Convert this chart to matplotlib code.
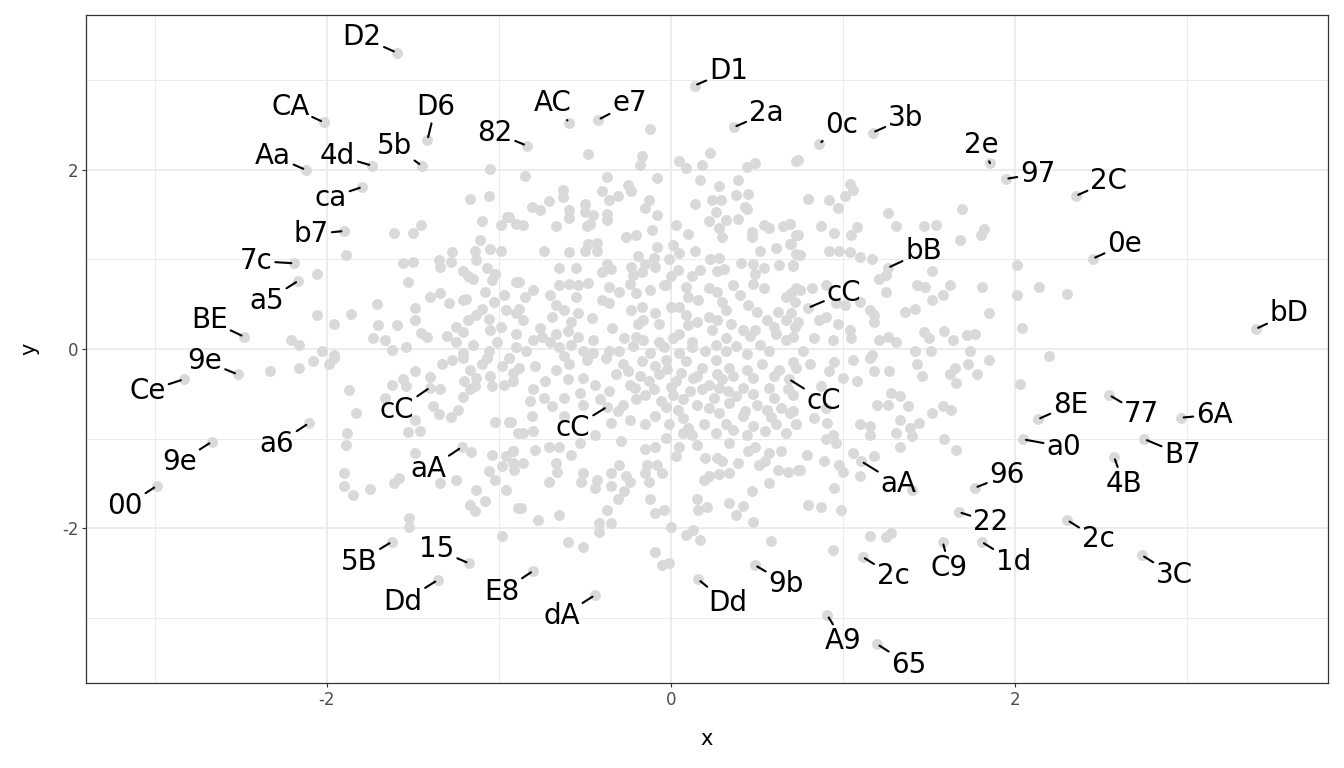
import numpy as np
import matplotlib
matplotlib.use("Agg")
import matplotlib.pyplot as plt

plt.rcParams["axes.unicode_minus"] = False

# grey background points (x, y)
cloud_nw = [
    (-1.05, 2.01), (-1.17, 1.68), (-1.06, 1.71), (-0.90, 1.40), (-1.61, 1.29), (-1.50, 1.30), (-1.45, 1.38),
    (-1.10, 1.43), (-0.95, 1.47), (-0.99, 1.38), (-1.89, 1.05), (-2.06, 0.84), (-1.56, 0.96), (-1.50, 0.97),
    (-1.53, 0.75), (-1.35, 0.99), (-1.34, 0.92), (-1.27, 1.08), (-1.28, 0.97), (-1.21, 0.87), (-1.14, 1.09),
    (-1.13, 0.99), (-1.11, 1.22), (-1.05, 1.12), (-0.99, 1.09), (-1.07, 0.90), (-1.02, 0.84), (-1.18, 0.81),
    (-1.15, 0.78), (-1.04, 0.77), (-0.90, 0.75), (-1.40, 0.58), (-1.34, 0.63), (-1.29, 0.51), (-1.21, 0.55),
    (-1.19, 0.56), (-1.08, 0.64), (-1.03, 0.53), (-0.97, 0.60), (-1.71, 0.50), (-1.49, 0.46), (-1.49, 0.32),
    (-1.59, 0.27), (-1.70, 0.27), (-1.86, 0.39), (-2.06, 0.38), (-1.96, 0.28), (-2.21, 0.10), (-2.16, 0.04),
    (-2.03, -0.02), (-1.96, -0.07), (-1.73, 0.12), (-1.66, 0.10), (-1.62, -0.01), (-1.54, 0.02), (-1.45, 0.18),
    (-1.42, 0.13), (-1.30, 0.15), (-1.25, 0.25), (-1.21, 0.19), (-1.25, 0.08), (-1.18, 0.32), (-1.13, 0.38),
    (-1.06, 0.33), (-0.99, 0.25), (-1.05, 0.21), (-0.96, 0.43), (-1.01, 0.08), (-1.06, -0.02), (-1.21, -0.05),
    (-0.90, 0.17), (-0.90, 0.40),
]

cloud_n = [
    (-0.12, 2.46), (-0.48, 2.18), (-0.17, 2.16), (-0.18, 2.06), (0.05, 2.10), (0.09, 2.02), (0.18, 2.06),
    (0.23, 2.19), (0.44, 2.03), (0.49, 2.08), (0.73, 2.10), (-0.85, 1.93), (-0.37, 1.92), (-0.25, 1.83),
    (-0.23, 1.76), (-0.08, 1.91), (0.17, 1.89), (0.28, 1.82), (0.39, 1.89), (-0.63, 1.78), (-0.63, 1.70),
    (-0.40, 1.76), (-0.36, 1.66), (-0.31, 1.71), (-0.71, 1.65), (-0.76, 1.55), (-0.81, 1.59), (-0.50, 1.62),
    (-0.50, 1.53), (-0.45, 1.50), (-0.59, 1.55), (-0.59, 1.46), (-0.37, 1.51), (-0.37, 1.44), (-0.13, 1.66),
    (-0.15, 1.58), (-0.08, 1.50), (0.14, 1.62), (0.24, 1.66), (0.29, 1.66), (0.26, 1.53), (0.38, 1.72),
    (0.45, 1.73), (0.43, 1.59), (0.44, 1.56), (-0.94, 1.47), (-0.86, 1.38), (-0.67, 1.37), (-0.49, 1.37),
    (-0.47, 1.40), (0.22, 1.43), (0.32, 1.44), (0.39, 1.45), (0.28, 1.35), (0.30, 1.25), (0.03, 1.38),
    (0.10, 1.28), (-0.11, 1.33), (-0.26, 1.25), (-0.20, 1.27), (0.47, 1.31), (0.47, 1.25), (0.54, 1.38),
    (0.57, 1.35), (0.65, 1.37), (0.69, 1.40), (0.73, 1.27), (-0.74, 1.09), (-0.59, 1.08), (-0.50, 1.09),
    (-0.48, 1.17), (-0.43, 1.18), (-0.43, 1.09), (-0.08, 1.14), (0.01, 1.16), (0.05, 1.07), (-0.19, 1.04),
    (0.14, 1.10), (0.52, 1.10), (0.61, 1.13), (0.69, 1.17), (0.73, 1.06), (0.23, 1.01), (0.28, 1.02),
    (-0.01, 1.01), (-0.10, 1.02), (-0.15, 0.95), (-0.65, 0.90), (-0.55, 0.91), (-0.37, 0.95), (-0.35, 0.89),
    (-0.40, 0.86), (-0.23, 0.92), (-0.22, 0.83), (-0.17, 0.86), (-0.09, 0.92), (0.04, 0.88), (0.00, 0.81),
    (-0.03, 0.71), (0.12, 0.81), (0.17, 0.88), (0.27, 0.87), (0.31, 0.89), (0.41, 0.96), (0.48, 0.95),
    (0.54, 0.90), (0.49, 0.84), (0.48, 0.73), (0.54, 0.68), (0.63, 0.94), (0.71, 0.93), (-0.88, 0.75),
    (-0.80, 0.66), (-0.85, 0.58), (-0.65, 0.72), (-0.59, 0.73), (-0.54, 0.71), (-0.48, 0.74), (-0.55, 0.58),
    (-0.36, 0.69), (-0.30, 0.64), (-0.24, 0.73), (-0.20, 0.62), (-0.12, 0.66), (-0.04, 0.71), (0.09, 0.69),
    (0.16, 0.55), (0.22, 0.68), (0.27, 0.64), (0.36, 0.71), (0.40, 0.60), (0.67, 0.58), (0.73, 0.68),
    (-0.88, 0.45), (-0.86, 0.32), (-0.67, 0.49), (-0.62, 0.43), (-0.54, 0.40), (-0.46, 0.35), (-0.58, 0.30),
    (-0.69, 0.36), (-0.36, 0.51), (-0.23, 0.43), (-0.17, 0.47), (-0.16, 0.32), (-0.19, 0.28), (-0.09, 0.40),
    (0.00, 0.47), (0.05, 0.47), (0.09, 0.38), (0.10, 0.27), (-0.07, 0.28), (0.22, 0.36), (0.27, 0.32),
    (0.32, 0.43), (0.45, 0.49), (0.50, 0.41), (0.56, 0.32), (0.62, 0.41), (0.67, 0.32), (0.72, 0.52),
    (-0.76, 0.23), (-0.75, 0.13), (-0.67, 0.17), (-0.60, 0.20), (-0.54, 0.13), (-0.45, 0.10), (-0.34, 0.23),
    (-0.27, 0.12), (-0.20, 0.13), (-0.16, 0.10), (-0.07, 0.08), (0.01, 0.12), (0.05, 0.17), (0.12, 0.08),
    (0.24, 0.21), (0.32, 0.12), (0.42, 0.21), (0.46, 0.15), (0.49, 0.21), (0.61, 0.17), (0.67, 0.10),
    (0.72, 0.25), (-0.90, 0.02), (-0.84, -0.02), (-0.65, 0.02), (-0.51, -0.02), (-0.36, -0.02), (0.20, -0.02),
    (0.32, -0.02), (0.57, -0.02),
]

cloud_ne = [
    (0.74, 2.11), (1.04, 1.84), (1.06, 1.78), (1.01, 1.71), (0.80, 1.68), (0.92, 1.66), (0.97, 1.58),
    (1.26, 1.52), (1.69, 1.56), (0.87, 1.37), (0.95, 1.30), (1.08, 1.36), (1.05, 1.27), (1.31, 1.37),
    (1.47, 1.37), (1.54, 1.38), (1.82, 1.34), (1.80, 1.27), (1.68, 1.22), (0.69, 1.40), (0.74, 1.27),
    (0.70, 1.17), (0.75, 1.05), (0.92, 1.09), (0.98, 1.10), (1.04, 1.08), (1.10, 1.03), (1.17, 1.01),
    (0.71, 0.94), (1.21, 0.78), (1.25, 0.83), (1.52, 0.87), (1.43, 0.71), (1.48, 0.69), (1.62, 0.72),
    (1.81, 0.69), (2.01, 0.94), (2.14, 0.69), (2.30, 0.61), (2.01, 0.60), (1.25, 0.64), (1.52, 0.55),
    (1.58, 0.60), (1.36, 0.41), (1.42, 0.45), (1.85, 0.40), (2.04, 0.23), (0.75, 0.66), (0.82, 0.68),
    (0.90, 0.72), (0.70, 0.62), (0.96, 0.51), (1.01, 0.49), (1.10, 0.52), (1.16, 0.44), (1.18, 0.38),
    (1.18, 0.30), (0.97, 0.28), (0.86, 0.32), (0.90, 0.36), (0.74, 0.30), (0.70, 0.40), (0.71, 0.13),
    (0.83, 0.12), (0.94, 0.10), (1.04, 0.21), (1.05, 0.12), (1.21, 0.10), (1.26, 0.13), (1.31, 0.08),
    (1.47, 0.19), (1.50, 0.12), (1.59, 0.20), (1.64, 0.10), (1.72, 0.16), (1.77, 0.17), (1.42, -0.02),
    (1.51, -0.02), (1.74, -0.02), (0.77, -0.02), (1.17, -0.07),
]

cloud_sw = [
    (-2.33, -0.25), (-2.16, -0.21), (-2.08, -0.13), (-1.99, -0.17), (-1.96, -0.10), (-1.87, -0.46),
    (-1.83, -0.72), (-1.88, -0.94), (-1.89, -1.07), (-1.90, -1.38), (-1.90, -1.53), (-1.85, -1.63),
    (-1.75, -1.56), (-1.61, -1.50), (-1.58, -1.44), (-1.49, -1.16), (-1.34, -1.50), (-1.25, -1.46),
    (-1.16, -1.15), (-1.52, -1.89), (-1.52, -1.99), (-0.98, -2.09), (-1.17, -1.74), (-1.14, -1.81),
    (-1.13, -1.57), (-1.08, -1.70), (-1.06, -1.36), (-1.02, -1.46), (-0.96, -1.57), (-0.89, -1.78),
    (-1.02, -0.81), (-0.94, -0.81), (-0.89, -0.94), (-1.04, -1.18), (-0.96, -1.20), (-0.92, -1.14),
    (-0.92, -1.27), (-0.98, -1.31), (-1.53, -0.93), (-1.46, -0.92), (-1.49, -0.79), (-1.66, -0.55),
    (-1.62, -0.40), (-1.56, -0.34), (-1.49, -0.25), (-1.54, -0.41), (-1.40, -0.31), (-1.34, -0.45),
    (-1.38, -0.64), (-1.35, -0.73), (-1.28, -0.76), (-1.24, -0.68), (-1.21, -0.54), (-1.17, -0.45),
    (-1.20, -0.36), (-1.14, -0.41), (-1.13, -0.32), (-1.17, -0.23), (-1.10, -0.17), (-1.33, -0.17),
    (-1.27, -0.12), (-1.05, -0.30), (-1.04, -0.41), (-0.97, -0.40), (-0.98, -0.19), (-0.92, -0.27),
    (-0.94, -0.10), (-1.07, -0.10), (-1.21, -0.10),
]

cloud_s = [
    (-0.88, -0.21), (-0.79, -0.19), (-0.67, -0.23), (-0.59, -0.17), (-0.49, -0.12), (-0.38, -0.10),
    (-0.28, -0.17), (-0.17, -0.13), (-0.09, -0.19), (-0.03, -0.12), (0.09, -0.13), (0.18, -0.21),
    (0.26, -0.12), (0.34, -0.21), (0.44, -0.23), (0.53, -0.17), (0.63, -0.23), (0.71, -0.15),
    (-0.92, -0.36), (-0.73, -0.36), (-0.60, -0.34), (-0.51, -0.32), (-0.44, -0.40), (-0.32, -0.28),
    (-0.24, -0.40), (-0.13, -0.36), (-0.07, -0.28), (0.03, -0.36), (0.13, -0.32), (0.22, -0.40),
    (0.30, -0.34), (0.42, -0.43), (0.57, -0.43), (0.68, -0.45), (-0.82, -0.58), (-0.74, -0.55),
    (-0.69, -0.64), (-0.62, -0.55), (-0.53, -0.49), (-0.51, -0.62), (-0.41, -0.56), (-0.36, -0.47),
    (-0.28, -0.62), (-0.21, -0.43), (-0.20, -0.56), (-0.15, -0.51), (-0.06, -0.58), (0.01, -0.51),
    (0.07, -0.56), (0.11, -0.47), (0.15, -0.62), (0.25, -0.55), (0.33, -0.47), (0.34, -0.60),
    (0.43, -0.69), (0.56, -0.68), (0.64, -0.66), (0.69, -0.71), (-0.81, -0.75), (-0.93, -0.81),
    (-0.86, -0.94), (-0.80, -0.92), (-0.62, -0.75), (-0.44, -0.96), (-0.35, -0.83), (-0.24, -0.79),
    (-0.31, -0.69), (-0.15, -0.84), (-0.09, -0.75), (-0.01, -0.84), (-0.03, -0.99), (0.07, -0.77),
    (0.07, -0.94), (0.12, -0.96), (0.19, -0.84), (0.26, -0.94), (0.32, -0.84), (0.34, -1.05),
    (0.44, -0.96), (0.42, -0.75), (0.55, -0.92), (0.61, -0.84), (0.67, -0.94), (0.73, -0.84),
    (-0.92, -1.14), (-0.86, -1.27), (-0.91, -1.35), (-0.79, -1.13), (-0.71, -1.09), (-0.65, -1.09),
    (-0.58, -1.18), (-0.53, -1.05), (-0.67, -1.27), (-0.66, -1.37), (-0.71, -1.49), (-0.29, -1.03),
    (-0.30, -1.29), (-0.35, -1.38), (-0.43, -1.46), (-0.51, -1.38), (-0.52, -1.48), (-0.44, -1.55),
    (-0.35, -1.53), (-0.26, -1.42), (-0.24, -1.48), (-0.27, -1.59), (-0.31, -1.67), (-0.15, -1.12),
    (-0.14, -1.29), (-0.08, -1.29), (-0.05, -1.38), (-0.13, -1.48), (-0.15, -1.38), (0.03, -1.20),
    (-0.09, -1.10), (0.05, -1.10), (0.15, -1.07), (0.20, -1.22), (0.27, -1.22), (0.30, -1.25),
    (0.39, -1.27), (0.45, -1.14), (0.49, -1.10), (0.57, -1.16), (0.64, -1.14), (0.51, -1.29),
    (0.55, -1.25), (0.62, -1.35), (0.68, -1.37), (0.74, -1.35), (0.19, -1.46), (0.22, -1.42),
    (0.28, -1.40), (0.34, -1.38), (0.57, -1.50), (0.47, -1.59), (0.15, -1.67), (0.16, -1.80),
    (0.21, -1.76), (0.34, -1.72), (0.42, -1.75), (0.38, -1.85), (0.48, -1.93), (0.58, -2.14),
    (-0.12, -1.68), (-0.09, -1.83), (-0.04, -1.80), (0.00, -1.99), (0.09, -2.08), (0.13, -2.02),
    (0.17, -2.13), (-0.09, -2.27), (-0.05, -2.41), (-0.01, -2.39), (-0.87, -1.78), (-0.77, -1.91),
    (-0.65, -1.85), (-0.37, -1.80), (-0.42, -1.94), (-0.42, -2.04), (-0.35, -1.94), (-0.60, -2.16),
    (-0.51, -2.21),
]

cloud_se = [
    (0.73, -0.21), (0.81, -0.17), (0.92, -0.25), (0.95, -0.15), (1.00, -0.32), (1.08, -0.36), (1.06, -0.12),
    (1.16, -0.10), (1.18, -0.25), (1.27, -0.25), (1.43, -0.17), (1.46, -0.30), (1.62, -0.28), (1.65, -0.21),
    (1.73, -0.17), (1.78, -0.28), (1.66, -0.38), (1.85, -0.12), (2.03, -0.39), (2.20, -0.08), (0.71, -0.51),
    (0.71, -0.69), (0.73, -0.84), (0.83, -0.77), (0.90, -0.66), (0.87, -0.41), (0.91, -0.83), (0.94, -0.96),
    (0.96, -1.05), (0.90, -1.01), (0.79, -1.18), (0.89, -1.25), (0.98, -1.29), (1.00, -1.37), (0.75, -1.35),
    (0.95, -1.55), (0.80, -1.74), (0.87, -1.76), (0.99, -1.80), (0.94, -2.25), (1.06, -1.16), (1.18, -1.20),
    (1.10, -1.42), (1.40, -1.57), (1.20, -0.62), (1.26, -0.62), (1.28, -0.49), (1.33, -0.53), (1.38, -0.64),
    (1.33, -0.79), (1.10, -0.84), (1.16, -0.86), (1.16, -0.96), (1.31, -0.94), (1.39, -0.88), (1.44, -0.83),
    (1.40, -0.97), (1.33, -1.10), (1.52, -0.71), (1.58, -0.64), (1.63, -0.68), (1.59, -1.01), (1.66, -1.13),
    (1.16, -2.09), (1.25, -2.10), (1.28, -2.06),
]

# the solid, overlapping core around the origin
cloud_core = [
    (-0.30, -0.02), (-0.22, 0.03), (-0.12, -0.05), (-0.04, 0.02), (0.05, -0.05), (0.12, 0.02), (0.26, 0.04),
    (0.38, 0.03), (0.44, -0.06), (0.52, 0.05), (-0.25, -0.25), (-0.18, -0.30), (-0.02, -0.22), (0.06, -0.27),
    (0.15, -0.30), (0.27, -0.28), (0.36, -0.30), (0.48, -0.32), (0.60, -0.30), (-0.10, -0.45), (0.00, -0.42),
    (0.18, -0.45), (0.28, -0.44), (0.38, -0.52), (0.48, -0.50), (0.60, -0.55), (-0.03, -0.65), (0.04, -0.68),
    (0.22, -0.66), (0.28, -0.72), (0.50, -0.62), (0.58, -0.76), (0.10, -0.88), (0.36, -0.90), (0.48, -0.86),
    (-0.58, 0.05), (-0.70, 0.08), (-0.80, 0.10), (-0.62, -0.08), (-0.45, -0.05), (0.15, 0.30), (0.35, 0.28),
    (0.60, 0.25), (0.10, 0.58), (0.30, 0.52), (-0.40, 0.55), (-0.70, 0.60), (-1.10, 0.45), (-1.15, 0.05),
    (-0.80, -0.45),
]

# labelled points
label_names = ["D2", "D1", "CA", "D6", "AC", "e7", "82", "2a", "0c", "3b",
               "Aa", "4d", "5b", "2e", "97", "2C", "ca", "b7", "bB", "0e",
               "7c", "a5", "cC", "BE", "bD", "9e", "Ce", "cC", "cC", "cC",
               "8E", "77", "6A", "a6", "a0", "B7", "aA", "aA", "9e", "4B",
               "96", "00", "22", "2c", "5B", "C9", "1d", "15", "2c", "3C",
               "9b", "E8", "Dd", "Dd", "dA", "A9", "65"]
label_x = [-1.595, 0.138, -2.019, -1.415, -0.591, -0.423, -0.839, 0.366, 0.862, 1.173,
           -2.122, -1.738, -1.449, 1.855, 1.946, 2.353, -1.793, -1.899, 1.26, 2.452,
           -2.190, -2.165, 0.797, -2.481, 3.399, -2.519, -2.833, -1.40, 0.685, -0.37,
           2.132, 2.548, 2.965, -2.106, 2.048, 2.752, -1.217, 1.107, -2.669, 2.576,
           1.767, -2.990, 1.674, 2.304, -1.622, 1.580, 1.806, -1.173, 1.114, 2.737,
           0.488, -0.800, -1.356, 0.159, -0.442, 0.909, 1.199]
label_y = [3.311, 2.942, 2.533, 2.335, 2.528, 2.559, 2.272, 2.477, 2.291, 2.417,
           2.000, 2.048, 2.048, 2.075, 1.899, 1.709, 1.810, 1.318, 0.905, 1.009,
           0.957, 0.763, 0.459, 0.137, 0.223, -0.283, -0.339, -0.43, -0.335, -0.645,
           -0.786, -0.514, -0.767, -0.830, -1.009, -1.006, -1.098, -1.254, -1.036, -1.203,
           -1.550, -1.531, -1.821, -1.911, -2.153, -2.153, -2.153, -2.394, -2.321, -2.302,
           -2.413, -2.477, -2.581, -2.573, -2.749, -2.972, -3.296]

# where the repelled text ended up (layout, data units)
text_x = [-1.797, 0.335, -2.213, -1.368, -0.686, -0.240, -1.023, 0.554, 0.994, 1.365,
          -2.314, -1.938, -1.609, 1.804, 2.132, 2.545, -1.977, -2.089, 1.469, 2.638,
          -2.411, -2.351, 1.006, -2.682, 3.595, -2.708, -3.041, -1.591, 0.890, -0.568,
          2.324, 2.738, 3.159, -2.292, 2.283, 2.975, -1.411, 1.324, -2.856, 2.632,
          1.955, -3.173, 1.859, 2.484, -1.814, 1.620, 1.992, -1.360, 1.292, 2.928,
          0.670, -0.984, -1.558, 0.330, -0.636, 1.002, 1.385]
text_y = [3.512, 3.136, 2.734, 2.737, 2.774, 2.774, 2.447, 2.663, 2.533, 2.611,
          2.190, 2.190, 2.298, 2.313, 1.989, 1.903, 1.721, 1.311, 1.121, 1.199,
          1.013, 0.566, 0.659, 0.350, 0.428, -0.104, -0.439, -0.652, -0.551, -0.849,
          -0.592, -0.700, -0.704, -1.036, -1.061, -1.155, -1.315, -1.483, -1.237, -1.475,
          -1.378, -1.728, -1.903, -2.097, -2.346, -2.413, -2.346, -2.209, -2.506, -2.499,
          -2.589, -2.682, -2.793, -2.812, -2.957, -3.232, -3.494]

grey = np.array(cloud_nw + cloud_n + cloud_ne + cloud_sw + cloud_s + cloud_se + cloud_core)

fig = plt.figure(figsize=(13.44, 7.68), dpi=100)
ax = fig.add_axes([86 / 1344, 1 - 683 / 768, 1242 / 1344, 668 / 768])

ax.scatter(grey[:, 0], grey[:, 1], s=62, color="#D9D9D9", linewidths=0, zorder=2)
ax.scatter(label_x, label_y, s=62, color="#D9D9D9", linewidths=0, zorder=2)

for name, px, py, tx, ty in zip(label_names, label_x, label_y, text_x, text_y):
    ax.annotate(name, xy=(px, py), xytext=(tx, ty - 0.03), textcoords="data",
                ha="center", va="center", fontsize=20, color="black", zorder=4,
                arrowprops=dict(arrowstyle="-", color="black", lw=1.5,
                                shrinkA=0, shrinkB=2))

ax.set_xlim(-3.40, 3.82)
ax.set_ylim(-3.73, 3.73)
ax.set_xticks([-2, 0, 2])
ax.set_yticks([-2, 0, 2])
ax.set_xticks([-3, -1, 1, 3], minor=True)
ax.set_yticks([-3, -1, 1, 3], minor=True)
ax.grid(which="major", color="#EBEBEB", lw=1.3, zorder=0)
ax.grid(which="minor", color="#EBEBEB", lw=0.7, zorder=0)
ax.set_axisbelow(True)
ax.tick_params(which="major", length=3, width=0.8, color="#333333",
               labelsize=12, labelcolor="#4D4D4D", pad=2.5)
ax.tick_params(which="minor", length=0)
for sp in ax.spines.values():
    sp.set_color("#333333")
    sp.set_linewidth(0.9)

ax.set_xlabel("x", fontsize=15, labelpad=15)
ax.set_ylabel("y", fontsize=15, labelpad=16)

fig.savefig("out.png", dpi=100)
